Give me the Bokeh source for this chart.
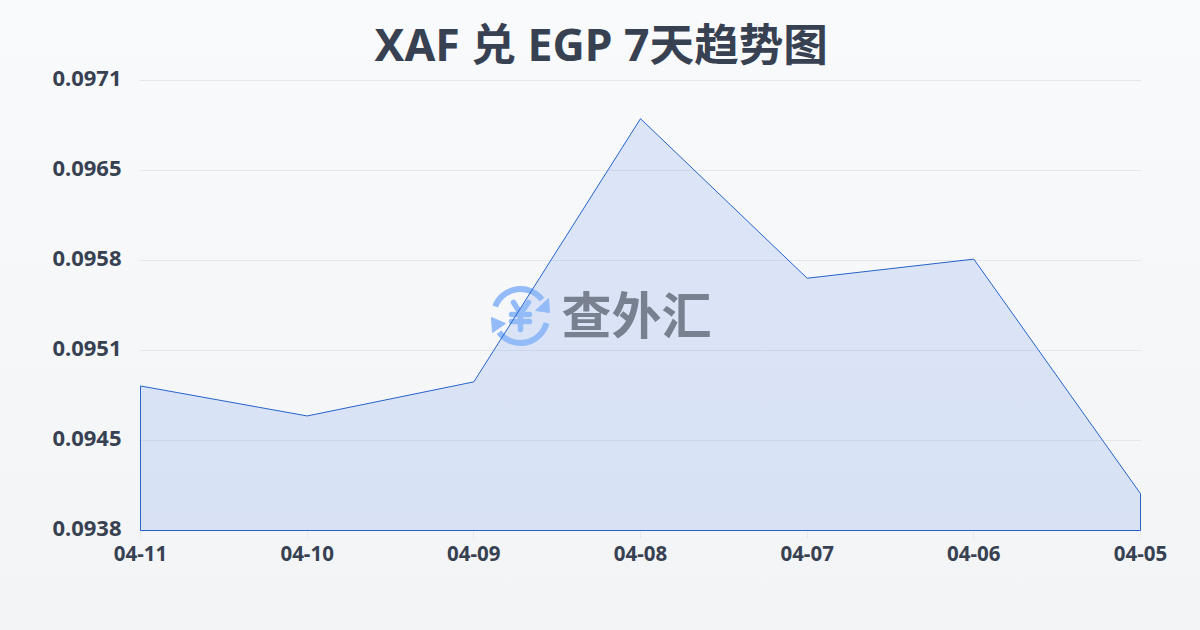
from bokeh.plotting import figure
from bokeh.embed import file_html
from bokeh.resources import INLINE
from bokeh.models import Range1d, FixedTicker, Title, LinearAxis
from bokeh.core.properties import value

dates = ["04-11", "04-10", "04-09", "04-08", "04-07", "04-06", "04-05"]
rates = [0.09486, 0.09464, 0.09489, 0.09682, 0.09565, 0.09579, 0.09407]
y_ticks = [0.0938, 0.09446, 0.09512, 0.09578, 0.09644, 0.0971]
y_labels = ["0.0938", "0.0945", "0.0951", "0.0958", "0.0965", "0.0971"]
title_text = "XAF 兑 EGP 7天趋势图"
brand = "查外汇"

FONT = "'Noto Sans','Noto Sans CJK SC'"
CJK = "Noto Sans CJK SC"
INK = "#374151"
BLUE = "#2563c9"

# slack round the 1000x450 plot area, so the outline and top label are not clipped
dx = (len(dates) - 1) / 1000
dy = (y_ticks[-1] - y_ticks[0]) / 450

p = figure(width=1200, height=630, output_backend="svg", toolbar_location=None,
           x_range=Range1d(-dx, len(dates) - 1 + dx), y_range=Range1d(y_ticks[0] - dy, y_ticks[-1] + 4 * dy),
           y_axis_location=None,
           min_border_left=139, min_border_right=59, min_border_top=76, min_border_bottom=99,
           background_fill_alpha=0, border_fill_alpha=0, outline_line_color=None)
p.styles = {"background": "linear-gradient(180deg,#f8fafc,#f3f4f6)"}

p.title = Title(text=title_text, align="left", offset=235, text_font=FONT, text_font_size="44.6px",
                text_font_style="bold", text_color=INK, standoff=6)

p.xgrid.visible = False
p.ygrid.ticker = FixedTicker(ticks=y_ticks)
p.ygrid.grid_line_color = "#e5e7eb"
p.ygrid.grid_line_width = 1

# the value labels sit 2px above their grid lines
p.extra_y_ranges["labels"] = Range1d(y_ticks[0] - 3 * dy, y_ticks[-1] + 2 * dy)
ya = LinearAxis(y_range_name="labels")
ya.ticker = FixedTicker(ticks=y_ticks)
ya.major_label_overrides = dict(zip(y_ticks, y_labels))
ya.axis_line_color = None
ya.major_tick_line_color = None
ya.minor_tick_line_color = None
ya.major_label_standoff = 12
ya.major_label_text_font = FONT
ya.major_label_text_font_style = "bold"
ya.major_label_text_font_size = "22px"
ya.major_label_text_color = INK
p.add_layout(ya, "left")

xa = p.xaxis[0]
xa.ticker = FixedTicker(ticks=list(range(len(dates))))
xa.major_label_overrides = dict(enumerate(dates))
xa.axis_line_color = None
xa.major_tick_line_color = "#e5e7eb"
xa.major_tick_in = 0
xa.major_tick_out = 7
xa.minor_tick_line_color = None
xa.major_label_standoff = 7
xa.major_label_text_font = FONT
xa.major_label_text_font_style = "bold"
xa.major_label_text_font_size = "20.5px"
xa.major_label_text_color = INK

# page-pixel coordinate system for the watermark
p.extra_x_ranges["px"] = Range1d(139, 1141)
p.extra_y_ranges["px"] = Range1d(531, 76)
PX = dict(x_range_name="px", y_range_name="px")

xs = list(range(len(dates)))
base = y_ticks[0]
p.patch(xs + [xs[-1], xs[0]], rates + [base, base], fill_color="#2563eb", fill_alpha=0.13, line_color=None)

# watermark icon
ICON = "#93bbf8"
p.arc(x=[520, 520], y=[315.5, 315.5], radius=[27, 27], radius_units="screen",
      start_angle=[0.65, 3.79], end_angle=[2.78, 6.02], line_color=ICON, line_width=6, **PX)
p.patches(xs=[[548, 549, 535], [491, 505, 492]], ys=[[298, 312, 310], [317, 323, 332]],
          fill_color=ICON, line_color=ICON, line_width=1, **PX)
p.multi_line(xs=[[513, 520, 528], [520, 520], [511, 529], [511, 529]],
             ys=[[302, 313, 302], [313, 329], [314, 314], [321, 321]],
             line_color=ICON, line_width=5.5, line_cap="round", line_join="round", **PX)
p.text(x=[636], y=[311], text=[brand], text_font=value(CJK), text_font_style="bold",
       text_font_size="50px", text_align="center", text_baseline="middle", text_color="#79808f", **PX)

p.patch(xs + [xs[-1], xs[0]], rates + [base, base], fill_color=None, line_color=BLUE, line_width=1)

open("out.html", "w").write(file_html(p, INLINE))
